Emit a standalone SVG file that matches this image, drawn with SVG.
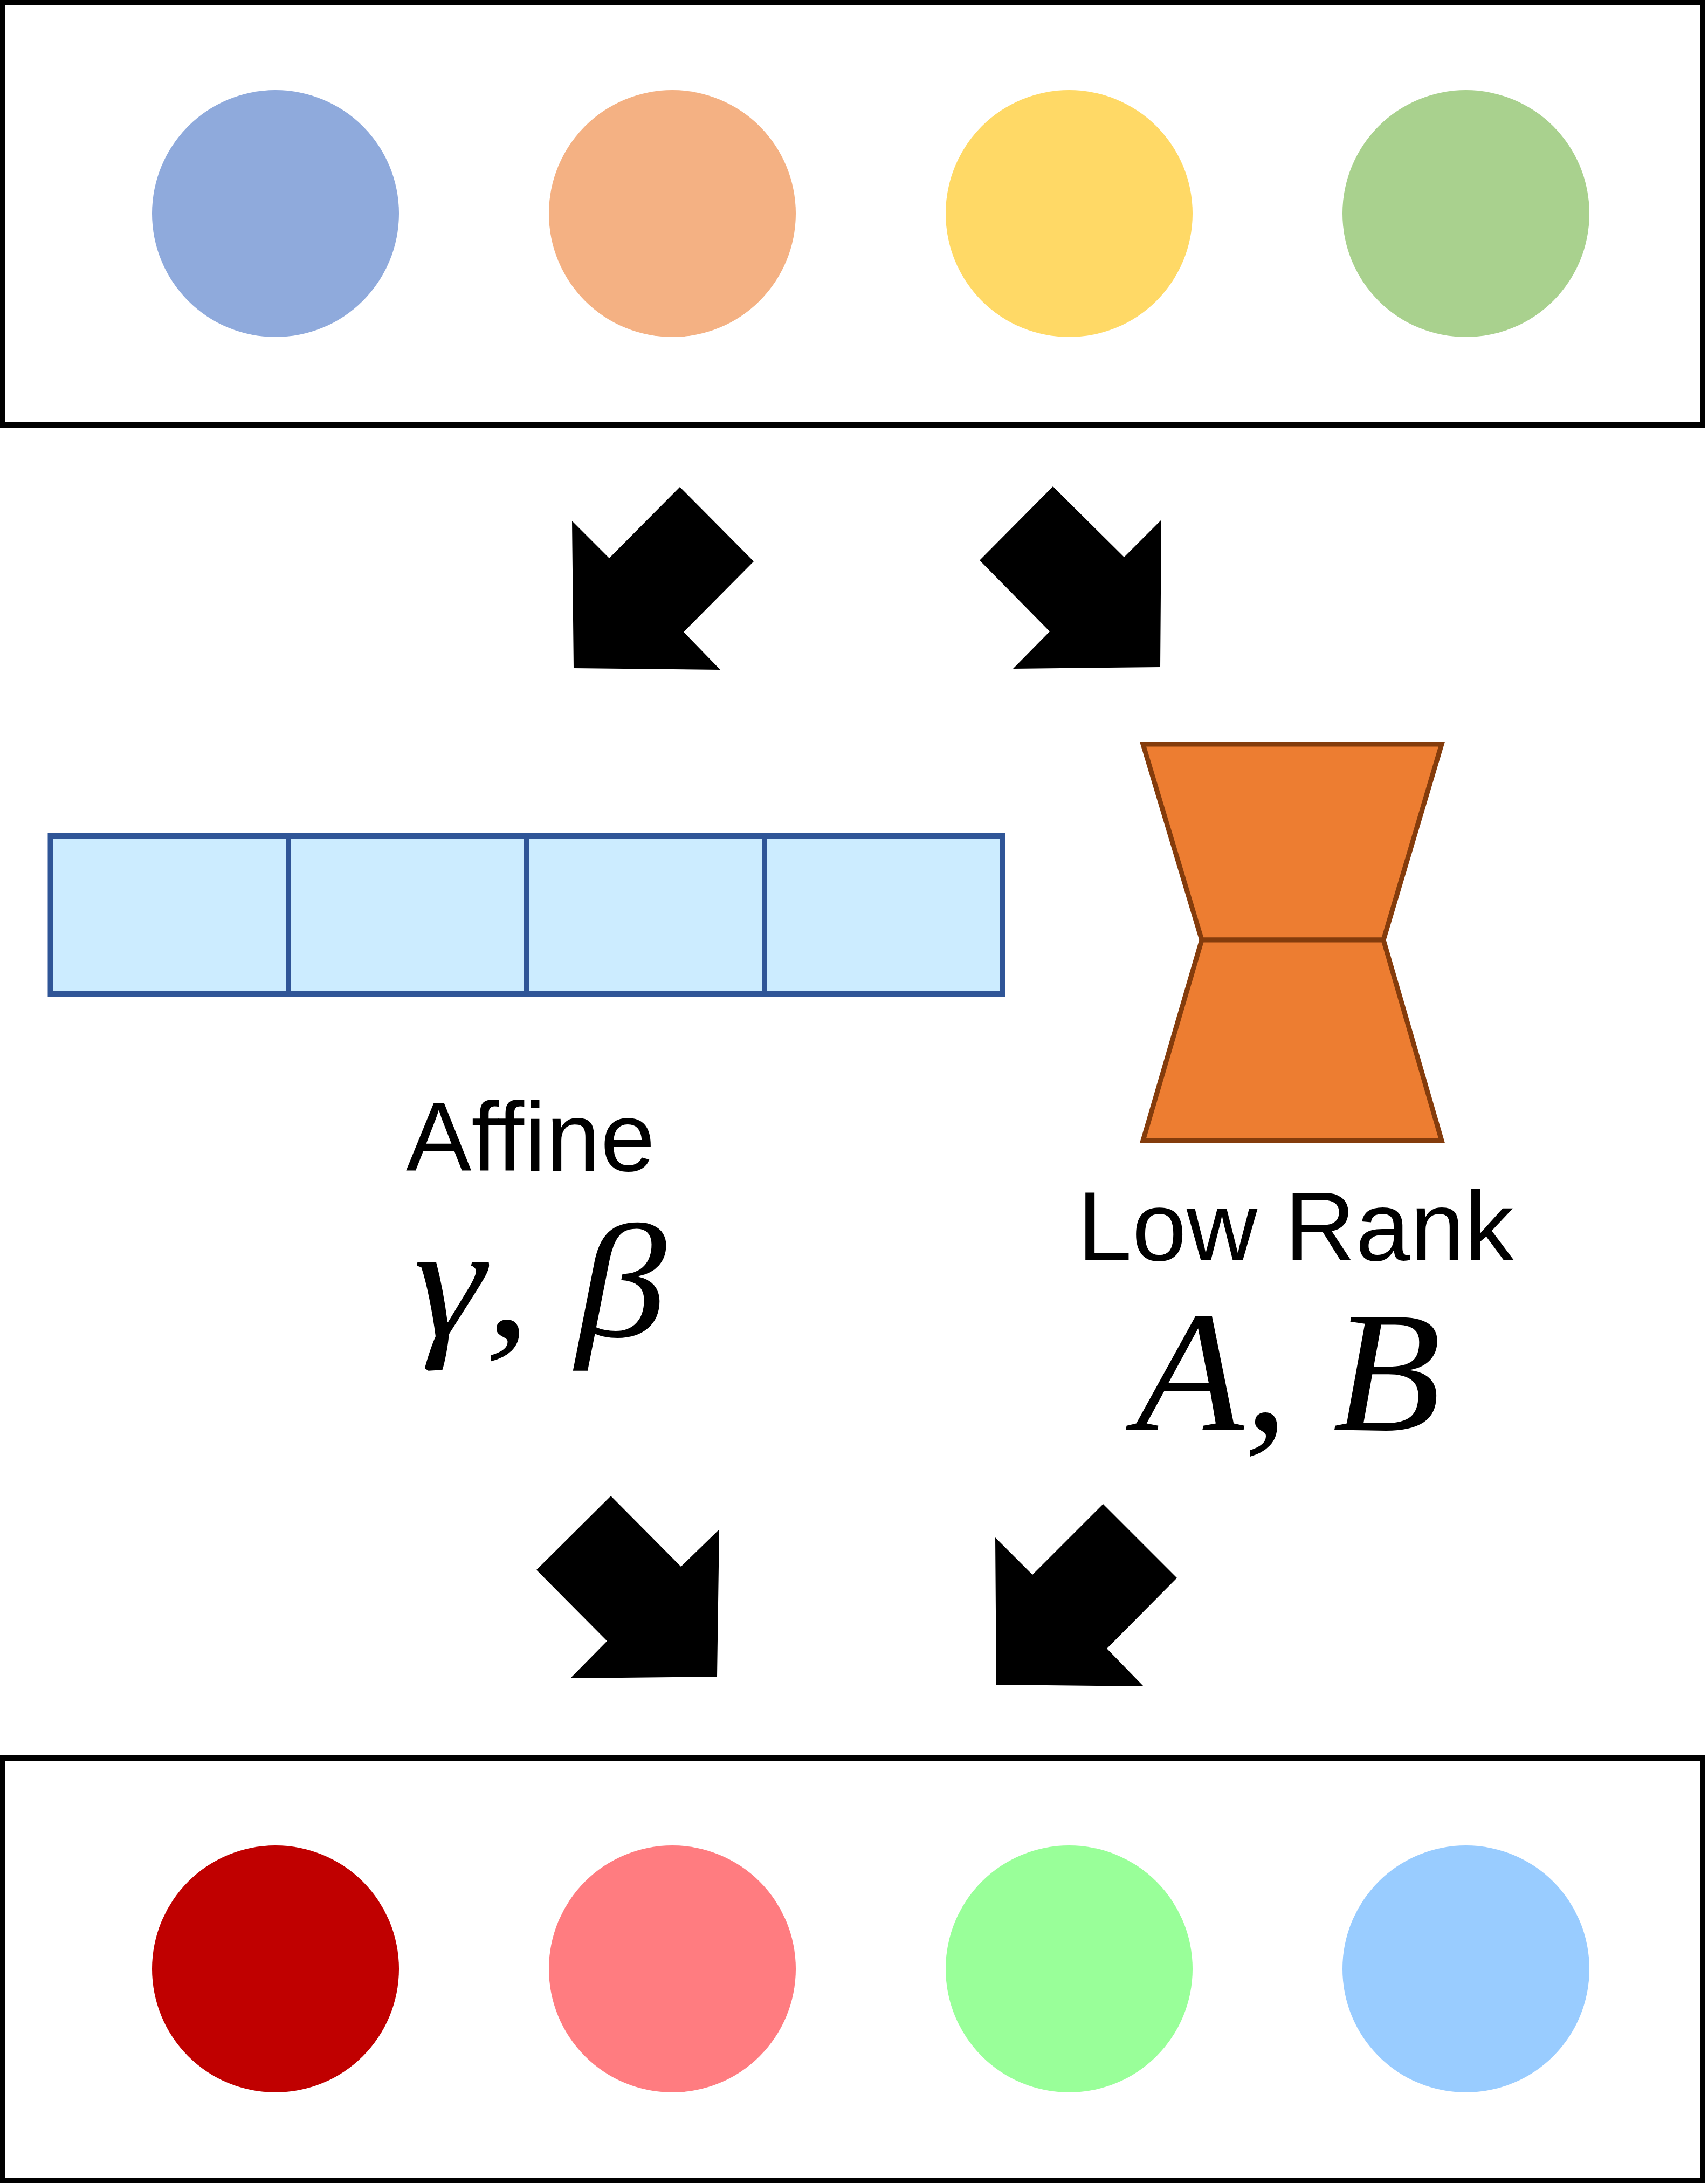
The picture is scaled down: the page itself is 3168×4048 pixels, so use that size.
<svg xmlns="http://www.w3.org/2000/svg" width="3168" height="4048" viewBox="0 0 3168 4048">
<style>
.frame{fill:#FFFFFF;stroke:#000000;stroke-width:10}
.cell{fill:#CCECFF;stroke:#2F5597;stroke-width:10}
.hg{fill:#ED7D31;stroke:#843C0C;stroke-width:9;stroke-linejoin:miter}
.arrow{fill:#000000;stroke:none}
.lbl{font-family:"Liberation Sans",Arial,sans-serif;font-size:182px;fill:#000000}
.math{font-family:"Liberation Serif","Times New Roman",serif;font-style:italic;fill:#000000}
</style>
<rect x="0" y="0" width="3168" height="4048" fill="#FFFFFF"/>
<g id="input-box">
<rect class="frame" x="5" y="5" width="3153" height="783"/>
<circle cx="511" cy="396" r="229" fill="#8FAADC"/>
<circle cx="1247" cy="396" r="229" fill="#F4B183"/>
<circle cx="1983" cy="396" r="229" fill="#FFD966"/>
<circle cx="2719" cy="396" r="229" fill="#A9D18E"/>
</g>
<g id="output-box">
<rect class="frame" x="5" y="3260" width="3153" height="783"/>
<circle cx="511" cy="3651" r="229" fill="#C00000"/>
<circle cx="1247" cy="3651" r="229" fill="#FF7C80"/>
<circle cx="1983" cy="3651" r="229" fill="#99FF99"/>
<circle cx="2719" cy="3651" r="229" fill="#99CCFF"/>
</g>
<g id="affine">
<rect class="cell" x="93.5" y="1550" width="441.5" height="293"/>
<rect class="cell" x="535" y="1550" width="441.5" height="293"/>
<rect class="cell" x="976.5" y="1550" width="441.5" height="293"/>
<rect class="cell" x="1418" y="1550" width="441.5" height="293"/>
<text class="lbl" x="984" y="2171" text-anchor="middle">Affine</text>
<text class="math" x="767" y="2478" font-size="300" textLength="469" lengthAdjust="spacingAndGlyphs">γ, β</text>
</g>
<g id="low-rank">
<polygon class="hg" points="2120,1380 2674,1380 2566,1743 2229,1743"/>
<polygon class="hg" points="2229,1743 2566,1743 2674,2115 2120,2115"/>
<text class="lbl" x="2403" y="2337" text-anchor="middle">Low Rank</text>
<text class="math" x="2106" y="2652" font-size="320" textLength="567" lengthAdjust="spacingAndGlyphs">A, B</text>
</g>
<g id="connectors">
<polygon class="arrow" points="1061,966 1130,1035 1261,903 1398,1041 1268,1172 1336,1242 1064,1239"/>
<polygon class="arrow" points="1947,1171 1817,1039 1953,902 2085,1033 2154,964 2152,1237 1879,1240"/>
<polygon class="arrow" points="995,2911 1133,2774 1263,2905 1334,2836 1330,3109 1058,3112 1126,3043"/>
<polygon class="arrow" points="1846,2851 1915,2920 2046,2789 2183,2926 2053,3057 2121,3127 1848,3124"/>
</g>
</svg>
